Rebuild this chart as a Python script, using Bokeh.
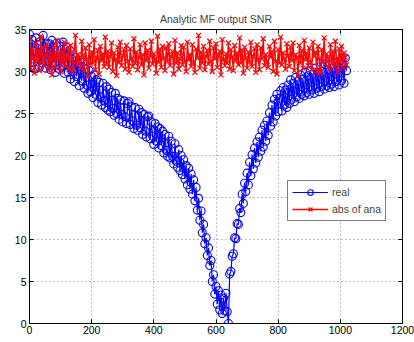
from bokeh.plotting import figure
from bokeh.models import Range1d, LinearAxis, FixedTicker, Legend, LegendItem, CustomJSTickFormatter
from bokeh.embed import file_html
from bokeh.resources import INLINE
import numpy as np

title_text = "Analytic MF output SNR"
step = 4
real_vals = [
    34.4, 30.6, 33.8, 32.4, 30.3, 34.0, 31.5, 33.2, 30.5, 33.6, 31.0, 34.3, 32.6, 30.4, 33.3, 31.2,
    33.3, 30.2, 33.7, 31.0, 32.8, 29.9, 33.4, 31.6, 30.3, 33.0, 30.6, 33.5, 29.8, 32.2, 32.9, 29.9,
    32.0, 29.1, 31.5, 30.0, 28.8, 31.7, 29.4, 31.0, 28.3, 30.6, 28.9, 31.1, 28.0, 30.3, 28.4, 27.4,
    30.1, 27.6, 29.4, 26.9, 29.6, 27.3, 29.0, 26.3, 28.7, 27.0, 26.0, 28.6, 26.5, 25.7, 28.2, 25.4,
    27.9, 25.2, 27.5, 25.6, 24.8, 27.4, 25.0, 26.8, 24.3, 26.6, 24.9, 24.0, 26.5, 24.6, 23.8, 26.2,
    26.4, 23.7, 25.8, 24.1, 23.2, 25.7, 23.6, 23.0, 25.5, 23.3, 25.1, 22.5, 24.9, 22.9, 22.2, 24.6,
    24.7, 22.0, 24.0, 22.3, 21.3, 23.8, 21.7, 23.4, 20.9, 23.2, 21.2, 22.9, 20.3, 22.5, 20.6, 19.9,
    22.3, 19.7, 21.7, 19.9, 19.0, 21.4, 19.3, 18.6, 20.7, 18.2, 20.0, 17.7, 19.5, 17.2, 18.8, 16.5,
    18.5, 16.0, 17.8, 15.4, 17.1, 14.6, 16.2, 13.5, 14.9, 12.3, 13.4, 10.8, 11.8, 9.5, 10.2, 8.1,
    9.0, 6.9, 7.5, 5.0, 5.8, 3.5, 4.4, 2.3, 3.9, 1.6, 3.4, 1.2, 3.0, 1.5, 3.6, 1.4,
    0.0, 5.9, 6.2, 8.0, 8.3, 10.2, 10.1, 11.9, 11.8, 13.7, 13.2, 15.4, 14.3, 16.7, 15.7, 17.9,
    16.5, 19.2, 17.6, 20.1, 18.4, 20.9, 19.1, 21.6, 19.8, 22.2, 20.5, 23.0, 21.0, 23.6, 21.7, 24.1,
    22.4, 25.1, 23.5, 26.0, 24.0, 26.7, 24.7, 27.3, 25.2, 26.8, 27.7, 25.3, 28.1, 26.0, 27.8, 25.7,
    28.4, 26.2, 29.0, 26.7, 28.6, 26.4, 29.3, 27.0, 28.9, 26.8, 29.6, 27.3, 29.1, 27.1, 29.9, 27.5,
    29.5, 27.3, 30.1, 27.8, 29.7, 27.4, 30.4, 28.0, 29.9, 27.6, 30.6, 28.2, 30.0, 27.9, 30.8, 28.3,
    30.2, 28.1, 30.9, 28.5, 30.4, 28.2, 31.1, 28.8, 30.6, 28.4, 31.3, 28.9, 30.8, 28.6, 31.6, 30.1,
]
ana_vals = [
    33.9, 30.4, 32.8, 31.6, 29.8, 33.4, 31.2, 32.5, 30.1, 34.2, 31.0, 32.9, 30.7, 31.9, 33.3, 30.2,
    32.4, 31.5, 29.6, 33.0, 31.8, 30.5, 33.7, 31.3, 32.2, 30.0, 32.7, 31.1, 33.5, 30.6, 31.7, 32.9,
    30.3, 33.1, 31.4, 29.9, 32.6, 34.3, 30.8, 32.0, 31.2, 30.4, 33.6, 31.9, 30.1, 32.8, 31.5, 29.4,
    33.2, 30.9, 32.3, 31.0, 33.8, 30.2, 31.6, 32.5, 29.7, 33.0, 31.3, 32.1, 30.6, 34.1, 31.0, 32.4,
    30.5, 31.8, 33.4, 30.0, 32.2, 31.4, 29.5, 32.9, 31.1, 33.5, 30.7, 31.9, 32.6, 30.3, 33.1, 31.2,
    29.9, 32.7, 31.5, 30.6, 33.9, 31.0, 32.3, 30.2, 31.7, 33.2, 30.8, 32.0, 29.6, 33.4, 31.3, 32.5,
    30.4, 31.9, 33.6, 30.9, 32.1, 31.4, 29.8, 34.2, 31.1, 32.6, 30.5, 33.0, 31.6, 30.1, 32.8, 31.2,
    33.3, 30.7, 31.8, 32.4, 29.7, 33.7, 31.0, 32.2, 30.3, 31.5, 33.1, 30.8, 32.9, 31.3, 30.0, 33.5,
    31.4, 32.0, 30.6, 33.2, 31.1, 29.9, 32.7, 31.6, 34.3, 30.4, 32.3, 31.0, 33.0, 30.2, 31.8, 32.5,
    30.9, 33.6, 31.2, 30.0, 32.8, 31.5, 33.3, 30.5, 31.9, 32.4, 29.6, 33.8, 31.4, 30.7, 32.1, 31.0,
    33.4, 30.3, 32.6, 31.7, 30.1, 33.1, 31.3, 32.2, 30.8, 34.0, 31.0, 32.5, 29.8, 32.9, 31.6, 30.4,
    32.3, 31.1, 33.5, 30.6, 31.8, 32.7, 29.9, 33.2, 31.4, 30.2, 32.8, 31.5, 33.9, 30.7, 32.0, 31.2,
    30.5, 33.0, 31.7, 32.4, 30.0, 33.6, 31.2, 29.7, 32.6, 31.0, 34.1, 30.8, 32.2, 31.5, 30.3, 33.3,
    31.9, 30.6, 32.9, 31.3, 33.4, 30.1, 32.0, 31.6, 29.5, 33.1, 31.0, 32.5, 30.4, 33.7, 31.4, 32.2,
    30.7, 32.8, 31.1, 30.2, 33.5, 31.8, 32.3, 30.0, 33.0, 31.5, 29.8, 32.6, 31.2, 34.0, 30.9, 32.1,
    31.6, 30.3, 33.2, 31.0, 32.4, 30.6, 33.6, 31.3, 29.9, 32.7, 31.1, 33.0, 30.5, 32.2, 31.7, 30.8,
]
x_ticks = [0, 200, 400, 600, 800, 1000, 1200]
y_ticks = [0, 5, 10, 15, 20, 25, 30, 35]

idx = np.arange(len(real_vals)) * step
FONT = "Liberation Sans"

p = figure(width=414, height=342, output_backend="svg", toolbar_location=None,
           x_range=Range1d(0, 1200), y_range=Range1d(0, 35),
           frame_width=373, frame_height=294,
           min_border_left=29, min_border_right=12, min_border_top=29, min_border_bottom=19)
p.title.text = title_text
p.title.align = "center"
p.title.text_font = FONT
p.title.text_font_size = "10.5px"
p.title.text_font_style = "normal"
p.title.offset = 0
p.outline_line_color = "black"
p.outline_line_width = 1
p.outline_line_alpha = 1

for ax in (p.xaxis[0], p.yaxis[0]):
    ax.major_tick_in = 4
    ax.major_tick_out = 0
    ax.minor_tick_in = 0
    ax.minor_tick_out = 0
    ax.major_label_text_font = FONT
    ax.major_label_text_font_size = "10.5px"
    ax.major_label_text_color = "black"
    ax.axis_line_color = "black"
    ax.major_tick_line_color = "black"
p.xaxis[0].ticker = FixedTicker(ticks=x_ticks)
p.yaxis[0].ticker = FixedTicker(ticks=y_ticks)
p.xaxis[0].major_label_standoff = 2
p.yaxis[0].major_label_standoff = 3

for loc, ticks in (("above", x_ticks), ("right", y_ticks)):
    a = LinearAxis(ticker=FixedTicker(ticks=ticks), major_tick_in=4, major_tick_out=0,
                   minor_tick_in=0, minor_tick_out=0,
                   formatter=CustomJSTickFormatter(code="return ''"),
                   major_label_standoff=0, axis_line_color="black")
    p.add_layout(a, loc)

p.xgrid.ticker = FixedTicker(ticks=x_ticks)
p.ygrid.ticker = FixedTicker(ticks=y_ticks)
for g in (p.xgrid[0], p.ygrid[0]):
    g.grid_line_color = "#808080"
    g.grid_line_dash = "1 3"
    g.grid_line_width = 1

r1 = p.line(idx, real_vals, line_color="blue", line_width=1.2)
r2 = p.scatter(idx, real_vals, marker="circle", size=8, fill_color=None, line_color="blue", line_width=1.1)
r3 = p.line(idx, ana_vals, line_color="red", line_width=1.3)
r4 = p.scatter(idx, ana_vals, marker="x", size=7, line_color="red", line_width=1.2)

legend = Legend(items=[LegendItem(label="real", renderers=[r1, r2]),
                       LegendItem(label="abs of ana", renderers=[r3, r4])],
                location=(258, 102))
legend.border_line_color = "black"
legend.border_line_width = 1
legend.background_fill_color = "white"
legend.background_fill_alpha = 1
legend.label_text_font = FONT
legend.label_text_font_size = "10.5px"
legend.glyph_width = 36
legend.glyph_height = 14
legend.label_height = 14
legend.spacing = 3
legend.padding = 4
legend.margin = 0
legend.label_standoff = 4
p.add_layout(legend, "center")

open("out.html", "w").write(file_html(p, INLINE))
